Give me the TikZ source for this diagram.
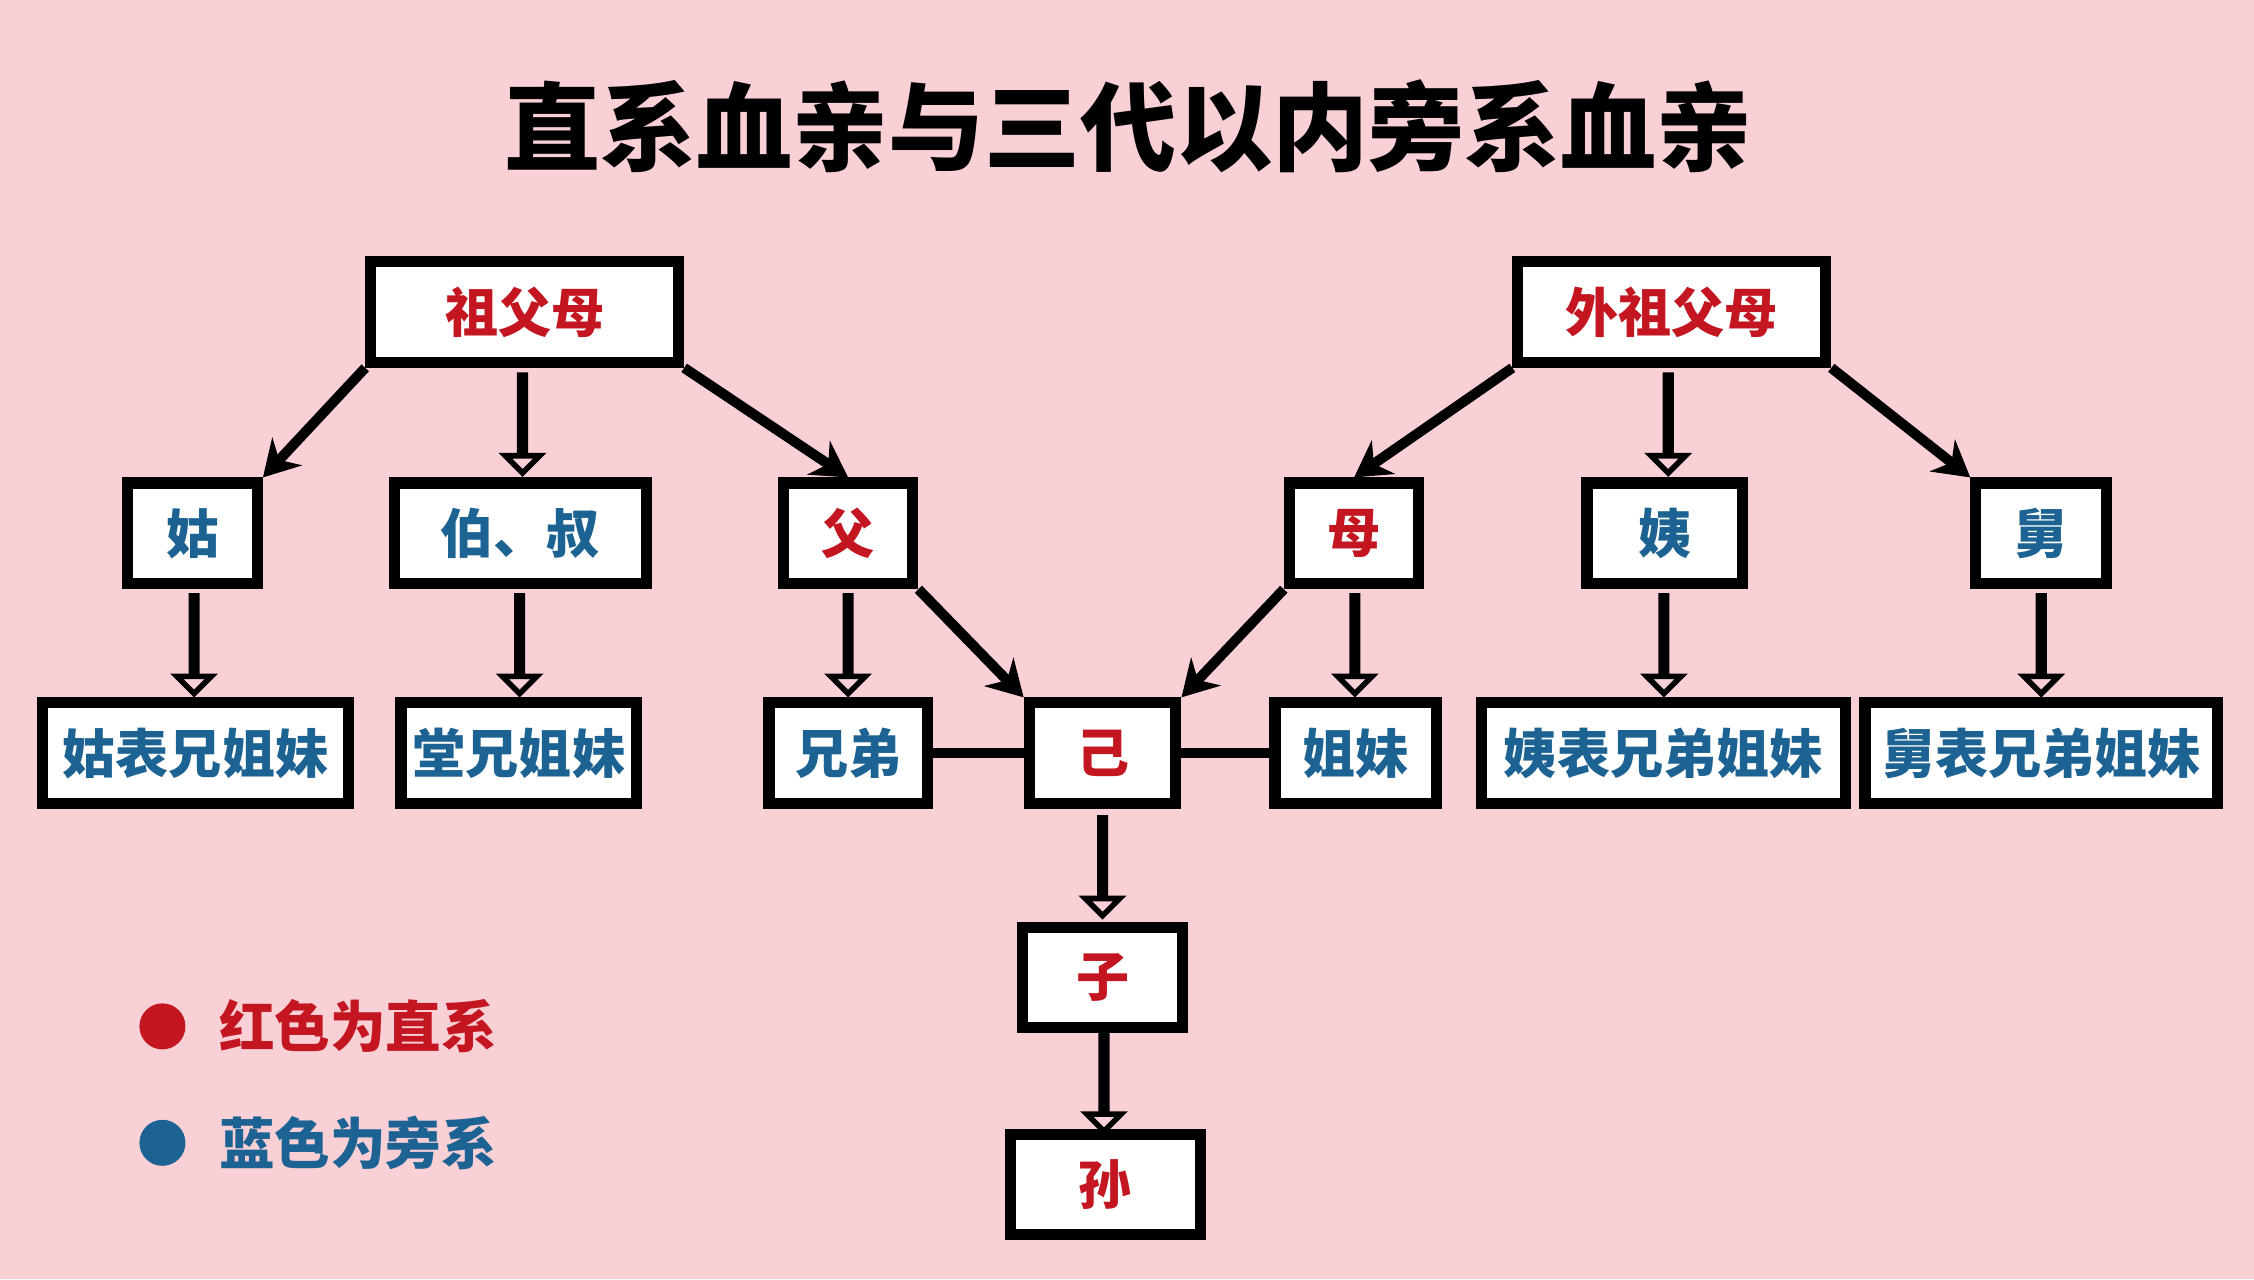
\documentclass[tikz,border=0pt]{standalone}
\usepackage{fontspec}
\setmainfont{Noto Sans CJK SC}
\usepackage{xcolor}
\usetikzlibrary{shapes.arrows,calc,positioning,arrows.meta}
\definecolor{bgpink}{RGB}{248,208,214}
\definecolor{kinred}{RGB}{196,22,32}
\definecolor{kinblue}{RGB}{28,98,146}

\begin{document}
\begin{tikzpicture}[x=0.01cm,y=-0.01cm,
  box/.style={draw=black, line width=2.2pt, fill=white, minimum height=0.7cm,
              inner sep=0pt, font=\fontsize{10.5}{12}\selectfont\bfseries},
  direct/.style={box, text=kinred},
  side/.style={box, text=kinblue},
  link/.style={line width=2pt, -{Stealth[length=7pt,width=8pt]}},
  hollow/.style={single arrow, draw=black, line width=1.1pt, rotate=-90,
                 minimum height=0.68cm, minimum width=0.18cm,
                 single arrow head extend=0.1cm, inner sep=0pt}]

% Background
\fill[bgpink] (0,0) rectangle (1568,890);

% Title
\node (title) at (785,88) {\fontsize{19}{22}\selectfont\bfseries 直系血亲与三代以内旁系血亲};

% Grandparents
\node[direct, minimum width=2.14cm] (gf)  at (365,217)  {祖父母};
\node[direct, minimum width=2.14cm] (wgf) at (1163,217) {外祖父母};

% Second row
\node[side,   minimum width=0.9cm]  (gu)  at (134,371)  {姑};
\node[side,   minimum width=1.75cm] (bs)  at (362,371)  {伯、叔};
\node[direct, minimum width=0.9cm]  (fu)  at (590,371)  {父};
\node[direct, minimum width=0.9cm]  (mu)  at (942,371)  {母};
\node[side,   minimum width=1.08cm] (yi)  at (1158,371) {姨};
\node[side,   minimum width=0.91cm] (jiu) at (1420,371) {舅};

% Third row
\node[side,   minimum width=2.13cm] (gubx)  at (136,524)  {姑表兄姐妹};
\node[side,   minimum width=1.64cm] (tangx) at (361,524)  {堂兄姐妹};
\node[side,   minimum width=1.1cm]  (xd)    at (590,524)  {兄弟};
\node[direct, minimum width=1.02cm] (ji)    at (767,524)  {己};
\node[side,   minimum width=1.12cm] (jm)    at (943,524)  {姐妹};
\node[side,   minimum width=2.53cm] (yibx)  at (1157,524) {姨表兄弟姐妹};
\node[side,   minimum width=2.45cm] (jiubx) at (1420,524) {舅表兄弟姐妹};

% Descendants
\node[direct, minimum width=1.11cm] (zi)  at (767,680) {子};
\node[direct, minimum width=1.32cm] (sun) at (769,824) {孙};

% Black arrows
\draw[link] (gf.south west)  -- (gu.north east);
\draw[link] (gf.south east)  -- (fu.north);
\draw[link] (wgf.south west) -- (mu.north);
\draw[link] (wgf.south east) -- (jiu.north west);
\draw[link] (fu.south east)  -- (ji.north west);
\draw[link] (mu.south west)  -- (ji.north east);

% Siblings
\draw[line width=2pt] (xd) -- (ji);
\draw[line width=2pt] (ji) -- (jm);

% Hollow arrows
\foreach \a/\b in {gf/bs, wgf/yi, gu/gubx, bs/tangx, fu/xd, mu/jm, yi/yibx, jiu/jiubx, ji/zi, zi/sun}
  \node[hollow] at ($(\a.south)!0.5!(\b.north)$) {};

% Legend
\fill[kinred]  (113,714) circle (0.16cm);
\fill[kinblue] (113,795) circle (0.16cm);
\node[anchor=west, text=kinred,  font=\fontsize{11}{13}\selectfont\bfseries] (lred)  at (140,714) {红色为直系};
\node[anchor=west, text=kinblue, font=\fontsize{11}{13}\selectfont\bfseries] (lblue) at (140,795) {蓝色为旁系};

\end{tikzpicture}
\end{document}
